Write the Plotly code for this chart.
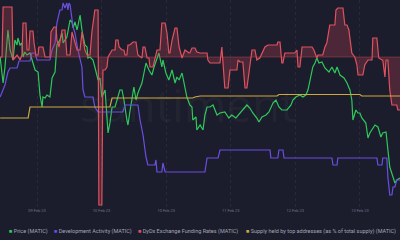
import plotly.graph_objects as go

# ---- data (hours relative to 09 Feb 23 00:00) ----
tick_hours = [0, 24, 48, 72, 96, 120]
tick_labels = ["09 Feb 23", "10 Feb 23", "10 Feb 23", "11 Feb 23", "12 Feb 23", "13 Feb 23"]

price_t = [-13.7, -13.0, -12.6, -11.9, -11.1, -10.8, -10.0, -8.9, -8.2, -7.4, -7.1, -6.3, -5.6, -5.2, -4.5, -3.7,
           -2.6, -1.9, -0.7, 0.4, 1.1, 1.9, 2.2, 3.0, 3.7, 4.8, 5.6, 6.7, 7.4, 8.5, 9.3, 9.7, 11.1, 12.3, 13.0,
           13.4, 14.1, 14.9, 15.2, 16.0, 16.7, 17.8, 18.6, 18.9, 19.7, 20.8, 21.5, 22.7, 23.4, 24.1, 25.3, 26.0,
           26.4, 27.1, 27.9, 29.0, 29.7, 30.8, 31.6, 32.3, 33.4, 33.8, 34.5, 36.0, 36.8, 37.5, 39.0, 40.5, 41.6,
           42.7, 43.5, 44.6, 45.3, 46.4, 46.8, 47.9, 49.0, 50.2, 51.3, 52.0, 52.8, 53.9, 55.0, 55.7, 56.8, 57.6,
           57.9, 59.1, 59.4, 60.6, 61.7, 62.4, 63.2, 64.3, 65.4, 66.9, 68.0, 69.8, 71.3, 72.4, 73.9, 75.4, 76.9,
           78.0, 79.1, 80.2, 81.7, 82.5, 83.6, 85.1, 86.2, 87.7, 88.8, 89.9, 91.0, 92.9, 94.4, 95.1, 96.2, 97.7,
           98.8, 99.9, 100.7, 101.8, 102.5, 103.3, 104.0, 104.8, 105.9, 107.0, 108.5, 109.6, 110.7, 111.5, 112.6,
           114.1, 115.2, 116.3, 117.0, 117.4, 118.5, 119.3, 120.0, 120.7, 122.2, 123.0, 123.7, 125.6, 126.7,
           127.8, 128.5, 129.7, 130.4, 131.1, 132.3, 133.0, 133.7, 134.9]
price = [1.386, 1.350, 1.334, 1.366, 1.436, 1.440, 1.400, 1.380, 1.420, 1.410, 1.424, 1.410, 1.414, 1.386, 1.396,
         1.390, 1.394, 1.380, 1.360, 1.356, 1.310, 1.286, 1.306, 1.304, 1.310, 1.306, 1.344, 1.356, 1.410, 1.420,
         1.434, 1.414, 1.426, 1.460, 1.456, 1.444, 1.456, 1.440, 1.450, 1.470, 1.440, 1.410, 1.406, 1.384, 1.386,
         1.380, 1.366, 1.340, 1.344, 1.306, 1.320, 1.274, 1.234, 1.254, 1.286, 1.286, 1.300, 1.320, 1.320, 1.300,
         1.260, 1.250, 1.276, 1.326, 1.300, 1.314, 1.334, 1.374, 1.360, 1.350, 1.366, 1.386, 1.394, 1.366, 1.380,
         1.354, 1.340, 1.360, 1.334, 1.346, 1.340, 1.354, 1.326, 1.306, 1.290, 1.286, 1.260, 1.266, 1.240, 1.250,
         1.240, 1.270, 1.286, 1.286, 1.290, 1.270, 1.274, 1.276, 1.264, 1.270, 1.264, 1.274, 1.284, 1.290, 1.284,
         1.274, 1.264, 1.256, 1.266, 1.270, 1.276, 1.294, 1.300, 1.286, 1.280, 1.280, 1.290, 1.300, 1.306, 1.310,
         1.306, 1.310, 1.320, 1.346, 1.366, 1.374, 1.384, 1.374, 1.376, 1.364, 1.356, 1.366, 1.354, 1.366, 1.350,
         1.344, 1.334, 1.320, 1.300, 1.260, 1.280, 1.274, 1.274, 1.264, 1.254, 1.224, 1.234, 1.250, 1.246, 1.226,
         1.234, 1.236, 1.200, 1.166, 1.146, 1.134, 1.140, 1.144]

dev_t = [-13.7, -11.9, -10.8, -10.0, -7.4, -6.7, -2.6, -1.9, -0.7, 0.0, 4.8, 5.6, 6.7, 7.4, 8.5, 9.3, 9.7, 10.4,
         11.1, 11.5, 11.9, 12.3, 13.4, 14.1, 15.2, 16.7, 17.1, 17.8, 20.8, 21.5, 22.7, 31.9, 32.7, 37.5, 38.3,
         39.4, 40.5, 41.2, 43.8, 44.2, 44.6, 46.4, 46.8, 47.6, 62.4, 63.2, 67.3, 68.0, 86.6, 86.9, 89.5, 89.9,
         91.4, 91.8, 109.6, 110.0, 111.5, 111.8, 126.3, 126.7, 128.2, 128.5, 130.0, 130.4, 131.1, 131.9, 132.3,
         133.0, 133.7, 134.9]
dev_activity = [113, 125, 138, 142, 142, 149, 149, 157, 157, 150, 150, 160, 167, 187, 200, 200, 207, 202, 207,
                200, 207, 205, 183, 177, 160, 143, 120, 113, 113, 103, 98, 98, 105, 105, 90, 75, 53, 45, 45, 50,
                38, 38, 47, 38, 38, 52, 52, 60, 60, 52, 52, 60, 60, 52, 52, 45, 45, 52, 52, 45, 45, 52, 52, 33,
                15, 15, 23, 23, 30, 30]

fund_t = [-13.7, -13.0, -12.6, -9.3, -8.9, -7.4, -6.3, -5.6, -5.2, -4.1, -3.7, -3.0, -2.6, -1.5, -1.1, -0.4, 0.4,
          0.7, 2.2, 3.0, 4.8, 5.2, 6.3, 7.1, 7.4, 8.2, 9.3, 10.4, 11.1, 12.3, 13.0, 14.1, 14.9, 16.0, 16.7, 17.5,
          17.8, 18.6, 19.7, 20.4, 21.5, 22.7, 23.0, 24.1, 24.5, 25.3, 26.0, 26.4, 27.9, 29.0, 29.3, 30.1, 30.5,
          31.6, 32.3, 32.7, 33.4, 33.8, 34.5, 35.7, 36.8, 37.2, 37.5, 39.0, 39.4, 40.1, 40.9, 41.6, 42.0, 43.1,
          43.8, 44.6, 45.7, 46.4, 47.6, 48.3, 49.0, 49.4, 50.2, 51.3, 52.0, 52.8, 53.9, 55.0, 56.5, 56.8, 57.6,
          58.7, 59.4, 60.6, 63.2, 63.5, 64.3, 68.0, 68.7, 69.1, 69.8, 71.0, 71.7, 74.3, 74.7, 75.4, 76.5, 77.3,
          78.0, 78.8, 79.9, 81.0, 81.7, 82.8, 83.6, 84.7, 85.8, 89.2, 89.5, 90.3, 91.0, 91.4, 92.1, 95.8, 96.6,
          97.0, 97.7, 98.5, 102.2, 102.9, 104.0, 104.4, 106.2, 107.0, 107.7, 108.8, 110.7, 111.1, 111.8, 113.7,
          114.4, 115.2, 115.9, 117.0, 118.1, 118.9, 119.3, 121.1, 121.8, 123.0, 124.5, 124.8, 126.3, 127.0,
          128.2, 128.5, 129.3, 129.7, 130.4, 131.1, 131.9, 133.7, 134.1, 134.9]
funding = [0, 0, 50, 50, -3, 2, -3, 2, 34, 34, 7, 7, 26, 26, 14, 2, 2, 10, 10, 0, 0, 25, 30, 30, 17, 10, 27, 27,
           2, 2, 25, 14, 7, 7, 25, 12, 7, 2, 2, 25, 47, 47, -148, -148, -13, -13, -10, 0, 7, 7, 17, 17, 10, 7, 7,
           2, 2, 12, 12, 15, 15, 7, 2, -1, 10, 10, -1, -1, -10, -10, -3, 7, 7, 34, 34, 24, 4, 4, 17, 29, 29, 10,
           -1, 7, 4, 4, 9, 9, 5, 4, 4, -3, -6, -6, 10, -6, -31, -31, -13, -13, -3, -5, -5, -31, -31, -15, 7, 7,
           -3, -1, 4, 10, 12, 12, 15, 15, -6, -6, 4, 4, 7, -10, -10, 10, 10, 7, -1, 2, 2, 10, 14, 32, 32, 47, 49,
           49, 32, 32, 27, 4, 0, -8, -18, -18, -8, -3, -3, 19, 19, -1, -3, -3, -20, -3, -3, -33, -48, -48, -53,
           -53]

supply_t = [-13.7, -3.3, -2.6, 27.1, 27.9, 57.9, 58.7, 60.6, 89.2, 89.9, 120.0, 120.7, 134.9]
supply = [78.2, 78.2, 79.3, 79.3, 80.2, 80.2, 80.3, 80.4, 80.4, 80.55, 80.55, 80.4, 80.4]

names = ["Price (MATIC)", "Development Activity (MATIC)", "DyDx Exchange Funding Rates (MATIC)",
         "Supply held by top addresses (as % of total supply) (MATIC)"]
colors = ["#2ec95a", "#6a4fe3", "#e0525e", "#cfa93e"]

BG = "#1b1d2c"

fig = go.Figure()
fig.add_trace(go.Scatter(x=supply_t, y=supply, mode="lines", name=names[3], yaxis="y4",
                         line=dict(color=colors[3], width=1.2)))
fig.add_trace(go.Scatter(x=fund_t, y=funding, mode="lines", name=names[2], yaxis="y3",
                         line=dict(color=colors[2], width=1.2), fill="tozeroy",
                         fillcolor="rgba(200,70,85,0.28)"))
fig.add_trace(go.Scatter(x=dev_t, y=dev_activity, mode="lines", name=names[1], yaxis="y2",
                         line=dict(color=colors[1], width=1.2)))
fig.add_trace(go.Scatter(x=price_t, y=price, mode="lines", name=names[0], yaxis="y",
                         line=dict(color=colors[0], width=1.2)))

hidden = dict(visible=False, fixedrange=True)
fig.update_layout(
    width=400, height=240,
    margin=dict(l=0, r=0, t=0, b=33),
    paper_bgcolor=BG, plot_bgcolor=BG,
    showlegend=False,
    font=dict(family="Roboto", color="#8a8d9c"),
    xaxis=dict(range=[-13.75, 134.9], tickvals=tick_hours, ticktext=tick_labels,
               tickfont=dict(size=4, color="#70748a"), showgrid=True,
               gridcolor="rgba(255,255,255,0.06)", griddash="dot", zeroline=False,
               showline=False, ticks=""),
    yaxis=dict(range=[1.086, 1.5], **hidden),
    yaxis2=dict(range=[3, 210], overlaying="y", **hidden),
    yaxis3=dict(range=[-150, 57], overlaying="y", **hidden),
    yaxis4=dict(range=[69.3, 90], overlaying="y", **hidden),
)

fig.add_shape(type="line", xref="paper", x0=0, x1=1, yref="y3", y0=0, y1=0,
              line=dict(color="rgba(224,82,94,0.35)", width=1))

fig.add_annotation(text="santiment", xref="paper", yref="paper", x=0.47, y=0.5,
                   showarrow=False, font=dict(size=46, color="rgba(255,255,255,0.045)", family="Open Sans"))

leg_x = [7, 52, 136, 244]
for nm, c, lx in zip(names, colors, leg_x):
    fig.add_annotation(text=f'<span style="color:{c}">■</span> {nm}', xref="paper", yref="paper",
                       x=lx / 400, y=-24 / 207, xanchor="left", yanchor="middle", showarrow=False,
                       font=dict(size=5.5, color="#a3a6b5", family="Roboto"))

fig.write_html("out.html")
